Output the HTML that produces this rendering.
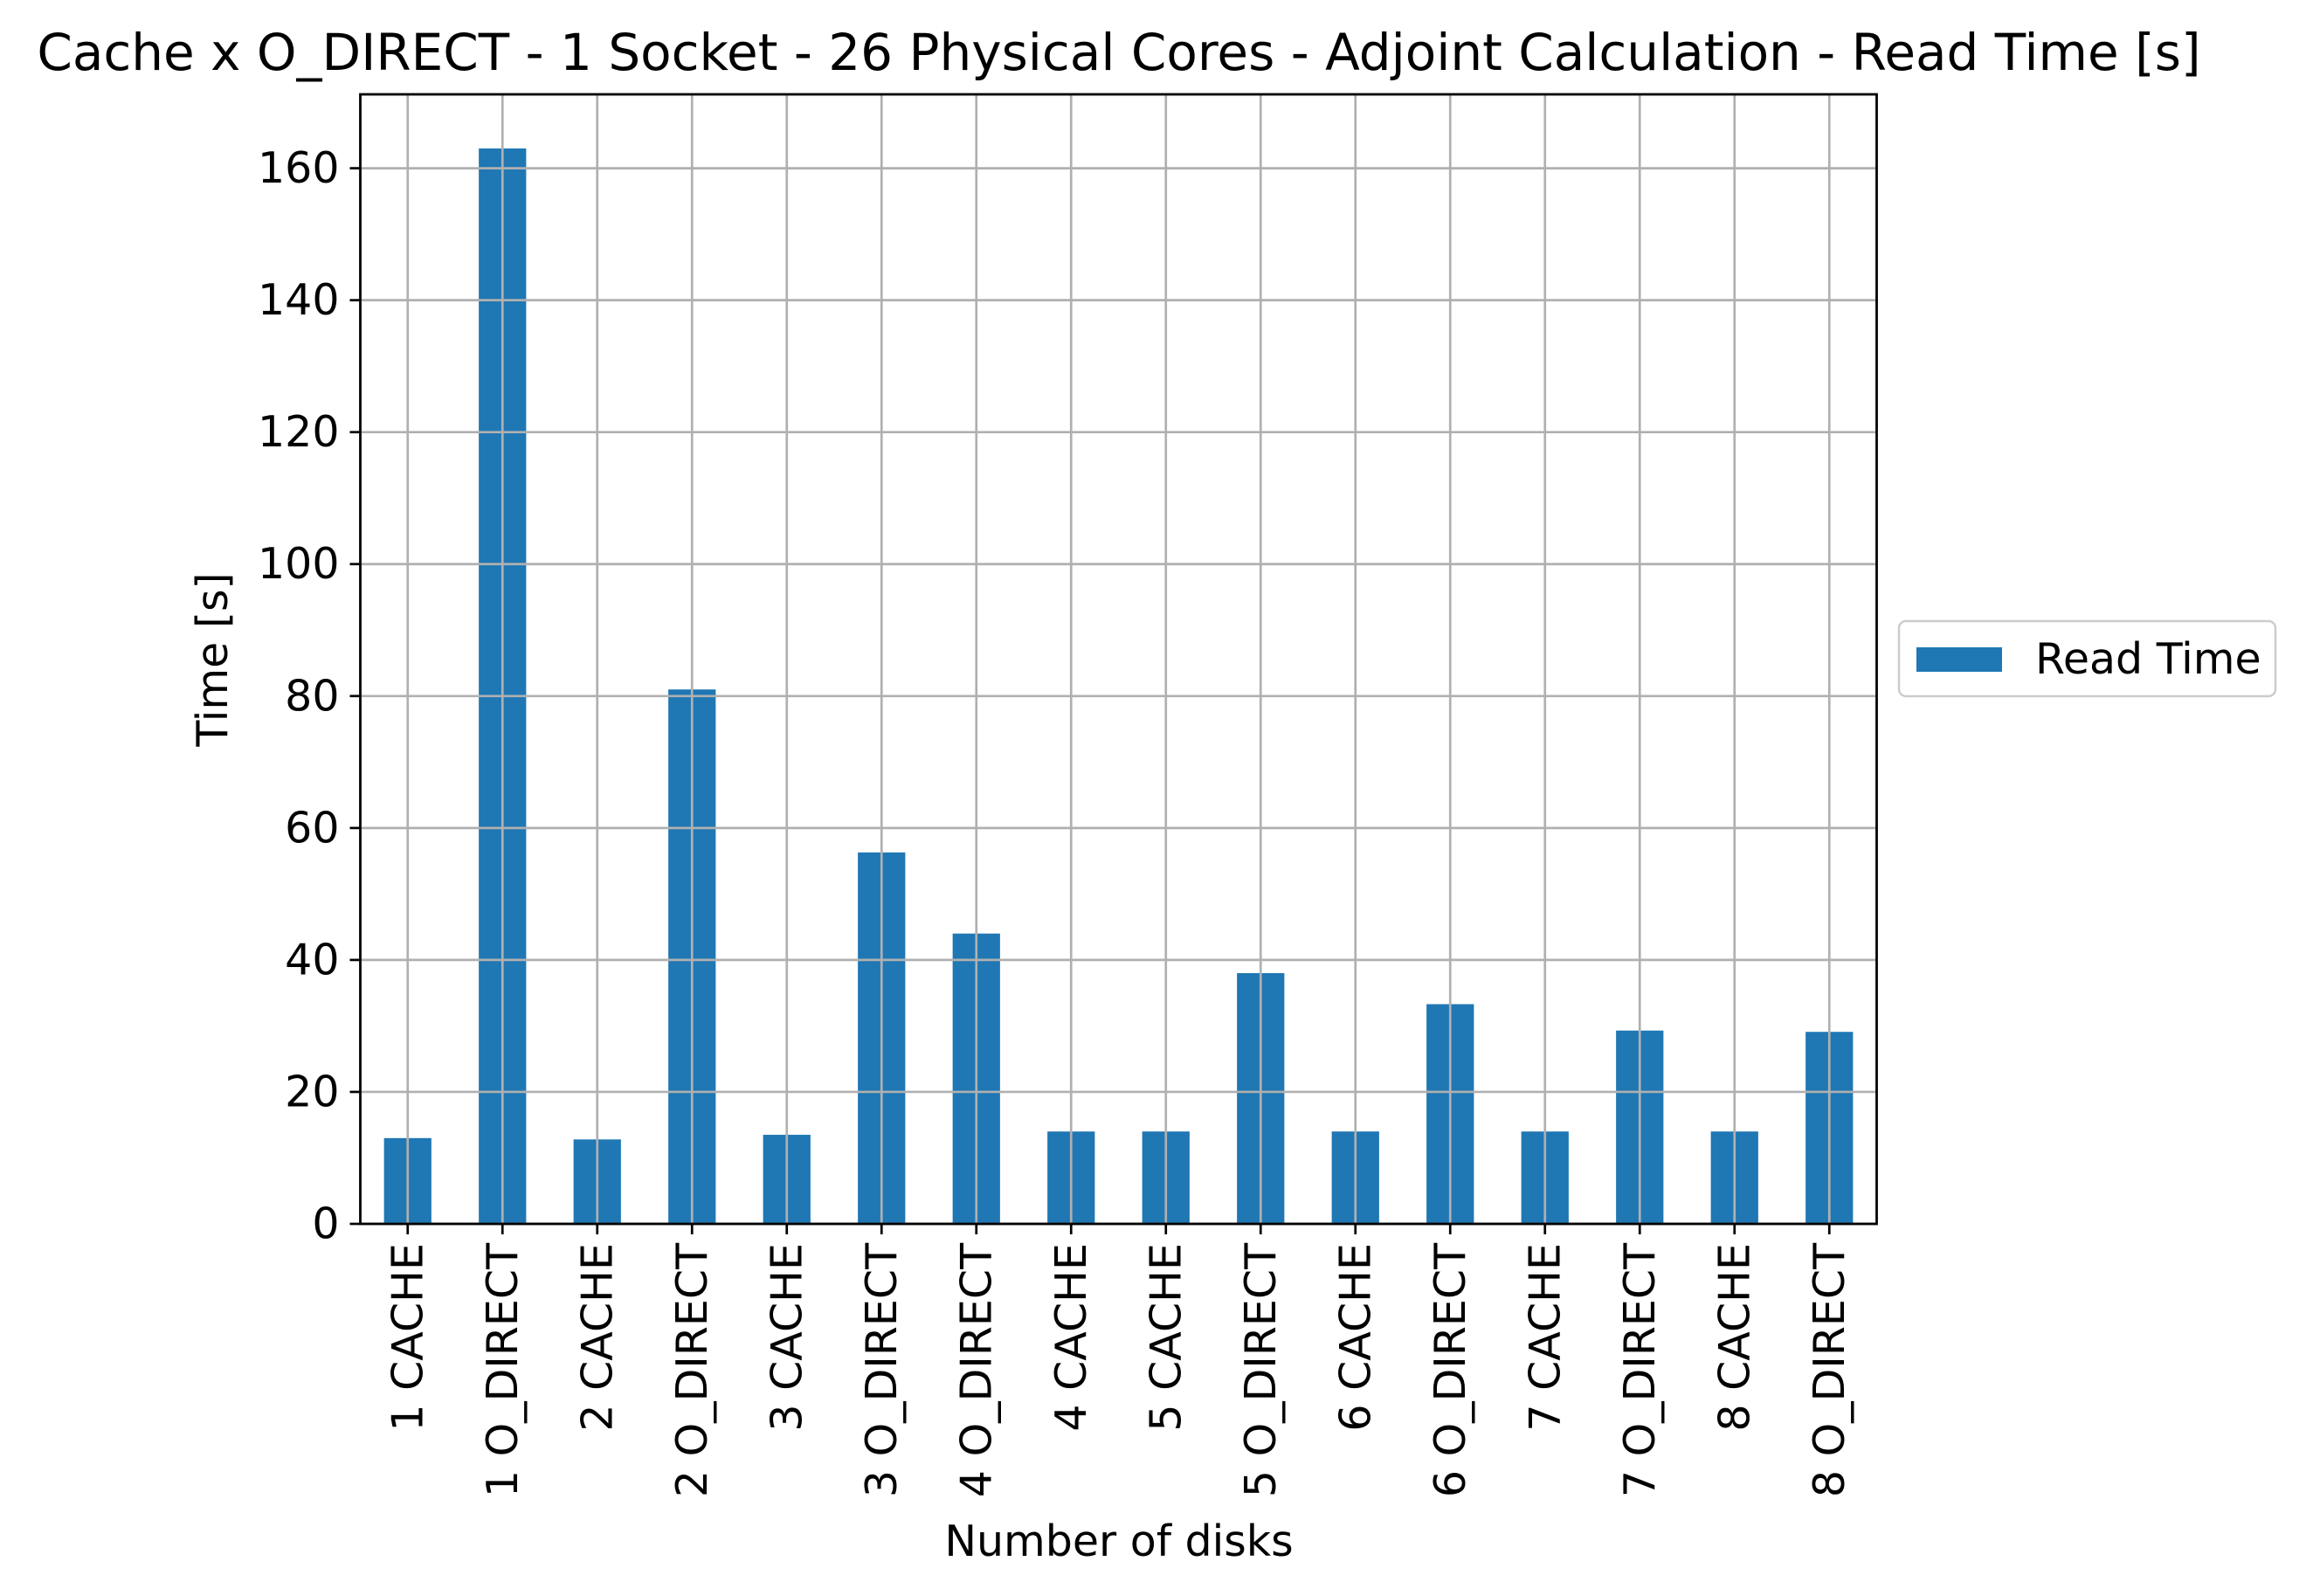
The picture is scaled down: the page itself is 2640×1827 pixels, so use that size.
<!DOCTYPE html>
<html><head><meta charset="utf-8"><style>
body{margin:0;background:#fff}
svg{display:block;font-family:"DejaVu Sans","Liberation Sans",sans-serif}
</style></head><body>
<svg id="chart" width="2640" height="1827" viewBox="0 0 2640 1827" xmlns="http://www.w3.org/2000/svg">
<rect width="2640" height="1827" fill="#fff"/>
<text x="1281" y="80" font-size="58" text-anchor="middle">Cache x O_DIRECT - 1 Socket - 26 Physical Cores - Adjoint Calculation - Read Time [s]</text>
<g id="grid"></g><g id="bars"></g><g id="axes"></g>
<text transform="translate(260,755) rotate(-90)" font-size="49" text-anchor="middle">Time [s]</text>
<text x="1281" y="1781" font-size="49" text-anchor="middle">Number of disks</text>
<g>
<rect x="2174" y="711" width="431" height="86" rx="8" fill="#fff" stroke="#cccccc" stroke-width="2.5"/>
<rect x="2194" y="741" width="98" height="28" fill="#1f77b4"/>
<text x="2330" y="771" font-size="49">Read Time</text>
</g>
</svg>
<script>
const categories=["1 CACHE","1 O_DIRECT","2 CACHE","2 O_DIRECT","3 CACHE","3 O_DIRECT","4 O_DIRECT","4 CACHE","5 CACHE","5 O_DIRECT","6 CACHE","6 O_DIRECT","7 CACHE","7 O_DIRECT","8 CACHE","8 O_DIRECT"];
const readTime=[13,163,12.8,81,13.5,56.3,44,14,14,38,14,33.3,14,29.3,14,29.1];
const yTicks=[0,20,40,60,80,100,120,140,160];
const NS="http://www.w3.org/2000/svg";
const L=412.5,R=2148.5,T=108,B=1401,yMax=171.2;
const band=(R-L)/categories.length;
function xC(i){return L+(i+0.5)*band;}
function yS(v){return B-(v/yMax)*(B-T);}
function mk(tag,attrs,parent){const e=document.createElementNS(NS,tag);for(const k in attrs)e.setAttribute(k,attrs[k]);document.getElementById(parent).appendChild(e);return e;}
categories.forEach((c,i)=>{
  const g=mk('line',{x1:xC(i),x2:xC(i),y1:T,y2:B,stroke:'#b0b0b0','stroke-width':2.7},'grid');
  
  
  const b=mk('rect',{x:xC(i)-band/4,width:band/2,y:yS(readTime[i]),height:B-yS(readTime[i]),fill:'#1f77b4'},'bars');
  
  
  const t=mk('line',{x1:xC(i),x2:xC(i),y1:B,y2:B+12,stroke:'#000','stroke-width':2.7},'axes');
  
  
  const lb=mk('text',{transform:`translate(${xC(i)},${B+22}) rotate(-90)`,'font-size':49,'text-anchor':'end','dominant-baseline':'central'},'axes');
  lb.textContent=c;
  
  
});
document.getElementById('chart').insertBefore(document.getElementById('bars'),document.getElementById('grid'));
yTicks.forEach(v=>{
  const g=mk('line',{x1:L,x2:R,y1:yS(v),y2:yS(v),stroke:'#b0b0b0','stroke-width':2.7},'grid');
  
  
  const t=mk('line',{x1:L-12,x2:L,y1:yS(v),y2:yS(v),stroke:'#000','stroke-width':2.7},'axes');
  
  
  const lb=mk('text',{x:L-24,y:yS(v),'font-size':49,'text-anchor':'end','dominant-baseline':'central'},'axes');
  lb.textContent=v;
  
  
});
const fr=mk('rect',{x:L,y:T,width:R-L,height:B-T,fill:'none',stroke:'#000','stroke-width':2.8},'axes');


</script>
</body></html>
